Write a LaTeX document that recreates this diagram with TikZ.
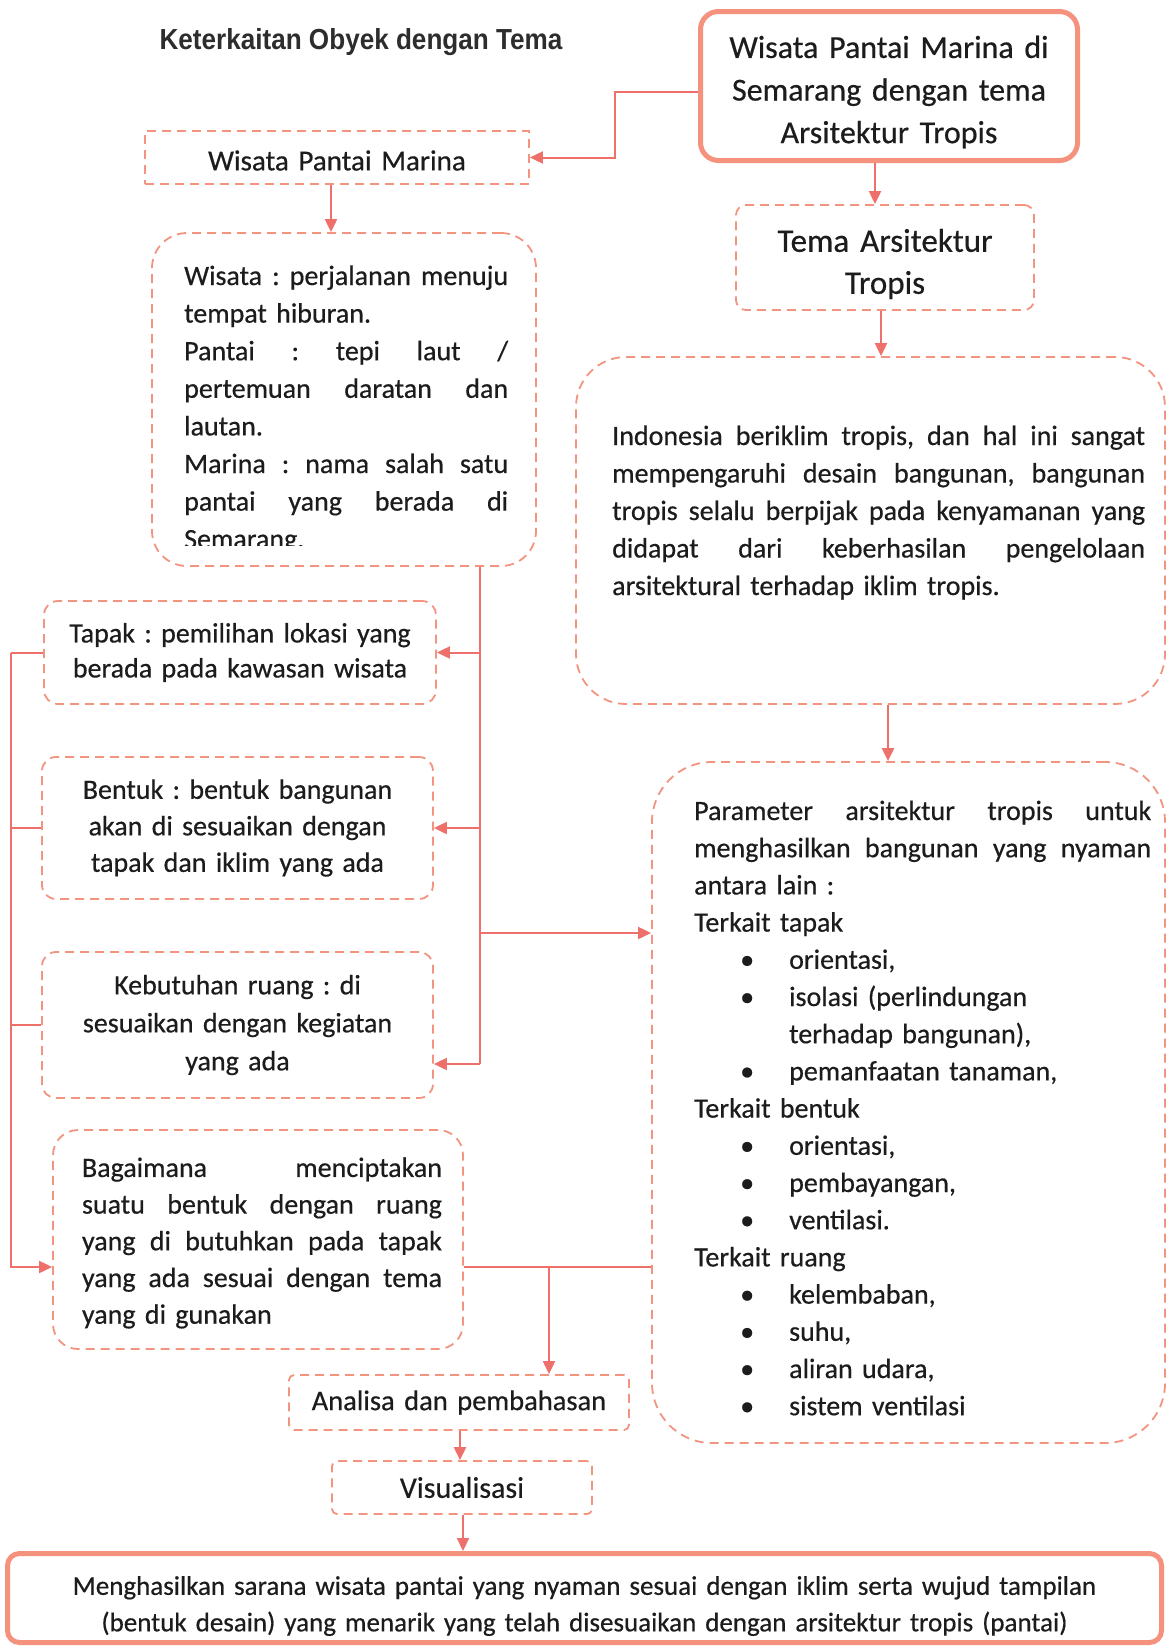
\documentclass[tikz,border=0pt]{standalone}
\usepackage{fontspec}
\usepackage{graphicx}
\setmainfont{Carlito}[FakeBold=0.5]
\newfontfamily\headfont{Liberation Sans}
\usetikzlibrary{arrows.meta}
\definecolor{dashc}{RGB}{242,148,128}
\definecolor{thickc}{RGB}{244,146,126}
\definecolor{linec}{RGB}{238,112,106}
\definecolor{txt}{RGB}{28,28,28}
\definecolor{titlec}{RGB}{45,45,45}
% a justified line filling the whole text width
\newcommand\jl[1]{\makebox[\linewidth][s]{\spaceskip=.3333em plus 1fil\relax #1}}
% a bulleted entry of the parameter list
\newcommand\bul[1]{\hspace*{46pt}\makebox[49pt][l]{\textbullet}#1}
\newcommand\setfs[2]{\fontsize{#1pt}{#2pt}\selectfont\frenchspacing}
\begin{document}
\begin{tikzpicture}[x=1pt,y=-1pt,
  dbox/.style={draw=dashc, line width=1.8pt, dash pattern=on 9pt off 6pt,
    inner sep=0pt, text=txt, align=center},
  sbox/.style={draw=thickc, line width=5pt, inner sep=0pt, text=txt, align=center},
  body/.style={text=txt, inner sep=0pt, anchor=base west, align=left},
  label/.style={text=txt, inner sep=0pt, align=center},
  conn/.style={draw=linec, line width=2pt},
  arr/.style={conn, -{Triangle[length=13pt,width=12pt]}}]

\path[fill=white, use as bounding box] (0,0) rectangle (1167,1649);

% heading
\node[text=titlec, inner sep=0pt, font=\headfont\bfseries\setfs{29}{34}] (title) at (361,42)
  {\scalebox{0.9}[1]{Keterkaitan Obyek dengan Tema}};

% top of the right column
\node[sbox, rounded corners=18pt, minimum width=377pt, minimum height=149pt] (top) at (889,86) {};
\node[label, text width=360pt, font=\setfs{32}{42.6}] (toptxt) at (889,92)
  {Wisata Pantai Marina di\\Semarang dengan tema\\Arsitektur Tropis};

\node[dbox, minimum width=384pt, minimum height=53pt] (wpm) at (337,157.5) {};
\node[label, text width=370pt, font=\setfs{29}{35}] (wpmtxt) at (337,160.5) {Wisata Pantai Marina};

\node[dbox, rounded corners=10pt, minimum width=298pt, minimum height=105pt] (tema) at (885,257.5) {};
\node[label, text width=280pt, font=\setfs{33}{42}] (tematxt) at (885,264) {Tema Arsitektur\\Tropis};

% definitions of the object
\node[dbox, rounded corners=35pt, minimum width=384pt, minimum height=333pt] (def) at (344,399.5) {};
\begin{scope}
  \clip (150,233) rectangle (540,545);
  \node[body, text width=324pt, font=\setfs{28}{37.6}] (deftxt) at (184,285)
   {\jl{Wisata : perjalanan menuju}\\
    tempat hiburan.\\
    \jl{Pantai : tepi laut /}\\
    \jl{pertemuan daratan dan}\\
    lautan.\\
    \jl{Marina : nama salah satu}\\
    \jl{pantai yang berada di}\\
    Semarang.};
\end{scope}

% tropical climate
\node[dbox, rounded corners=50pt, minimum width=589pt, minimum height=347pt] (clim) at (870.5,530.5) {};
\node[body, text width=533pt, font=\setfs{28}{37.5}] (climtxt) at (612,445)
 {\jl{Indonesia beriklim tropis, dan hal ini sangat}\\
  \jl{mempengaruhi desain bangunan, bangunan}\\
  \jl{tropis selalu berpijak pada kenyamanan yang}\\
  \jl{didapat dari keberhasilan pengelolaan}\\
  arsitektural terhadap iklim tropis.};

% left column
\node[dbox, rounded corners=14pt, minimum width=392pt, minimum height=103pt,
  text width=380pt, font=\setfs{28}{35}] (tapak) at (240,652.5)
  {Tapak : pemilihan lokasi yang\\berada pada kawasan wisata};

\node[dbox, rounded corners=14pt, minimum width=391pt, minimum height=142pt,
  text width=380pt, font=\setfs{28}{36.5}] (bentuk) at (237.5,828)
  {Bentuk : bentuk bangunan\\akan di sesuaikan dengan\\tapak dan iklim yang ada};

\node[dbox, rounded corners=14pt, minimum width=391pt, minimum height=146pt,
  text width=380pt, font=\setfs{28}{38}] (kebu) at (237.5,1025)
  {Kebutuhan ruang : di\\sesuaikan dengan kegiatan\\yang ada};

\node[dbox, rounded corners=25pt, minimum width=410pt, minimum height=219pt] (bag) at (258,1239.5) {};
\node[label, text width=360pt, align=left, font=\setfs{28}{36.7}] (bagtxt) at (262,1243)
  {\jl{Bagaimana menciptakan}\\
   \jl{suatu bentuk dengan ruang}\\
   \jl{yang di butuhkan pada tapak}\\
   \jl{yang ada sesuai dengan tema}\\
   yang di gunakan};

% parameters
\node[dbox, rounded corners=60pt, minimum width=513pt, minimum height=681pt] (param) at (908.5,1102.5) {};
\node[body, text width=457pt, font=\setfs{28}{37.2}] (paramtxt) at (694,820)
 {\jl{Parameter arsitektur tropis untuk}\\
  \jl{menghasilkan bangunan yang nyaman}\\
  antara lain :\\
  Terkait tapak\\
  \bul{orientasi,}\\
  \bul{isolasi (perlindungan}\\
  \hspace*{95pt}terhadap bangunan),\\
  \bul{pemanfaatan tanaman,}\\
  Terkait bentuk\\
  \bul{orientasi,}\\
  \bul{pembayangan,}\\
  \bul{ventilasi.}\\
  Terkait ruang\\
  \bul{kelembaban,}\\
  \bul{suhu,}\\
  \bul{aliran udara,}\\
  \bul{sistem ventilasi}};

% bottom chain
\node[dbox, rounded corners=5pt, minimum width=340pt, minimum height=55pt,
  text width=330pt, font=\setfs{28.5}{34}] (ana) at (459,1402.5) {Analisa dan pembahasan};
\node[dbox, rounded corners=5pt, minimum width=260pt, minimum height=53pt,
  text width=250pt, font=\setfs{30}{34}] (vis) at (462,1487.5) {Visualisasi};
\node[sbox, rounded corners=12pt, minimum width=1154pt, minimum height=89pt] (fin) at (584.5,1598) {};
\node[label, text width=1120pt, font=\setfs{27}{36.5}] (fintxt) at (584.5,1606)
  {Menghasilkan sarana wisata pantai yang nyaman sesuai dengan iklim serta wujud tampilan\\
   (bentuk desain) yang menarik yang telah disesuaikan dengan arsitektur tropis (pantai)};

% connectors
\coordinate (bend) at (615,92);
\draw[arr] (top.west |- bend) -- (bend) |- (wpm.east);

\coordinate (xw) at (331,0);
\draw[arr] (wpm.south -| xw) -- (def.north -| xw);

\coordinate (xt) at (875,0);
\draw[arr] (top.south -| xt) -- (tema.north -| xt);

\coordinate (xc) at (881,0);
\draw[arr] (tema.south -| xc) -- (clim.north -| xc);

\coordinate (xp) at (888,0);
\draw[arr] (clim.south -| xp) -- (param.north -| xp);

% trunk feeding the left column
\coordinate (tk) at (480,1064);
\coordinate (tj) at (480,933);
\draw[conn] (def.south -| tk) -- (tk);
\draw[arr] (tapak.east -| tk) -- (tapak.east);
\draw[arr] (bentuk.east -| tk) -- (bentuk.east);
\draw[arr] (tk) -- (tk -| kebu.east);
\draw[arr] (tj) -- (tj -| param.west);

% collecting line on the far left
\coordinate (lb) at (11,1267);
\draw[conn] (tapak.west) -- (tapak.west -| lb);
\draw[conn] (bentuk.west) -- (bentuk.west -| lb);
\draw[conn] (kebu.west) -- (kebu.west -| lb);
\draw[arr] (tapak.west -| lb) -- (lb) -- (lb -| bag.west);

% towards analysis
\coordinate (ax) at (549,1267);
\draw[conn] (ax -| bag.east) -- (ax -| param.west);
\draw[arr] (ax) -- (ax |- ana.north);

\coordinate (xa) at (460,0);
\draw[arr] (ana.south -| xa) -- (vis.north -| xa);
\coordinate (xv) at (463,0);
\draw[arr] (vis.south -| xv) -- (fin.north -| xv);
\end{tikzpicture}
\end{document}
